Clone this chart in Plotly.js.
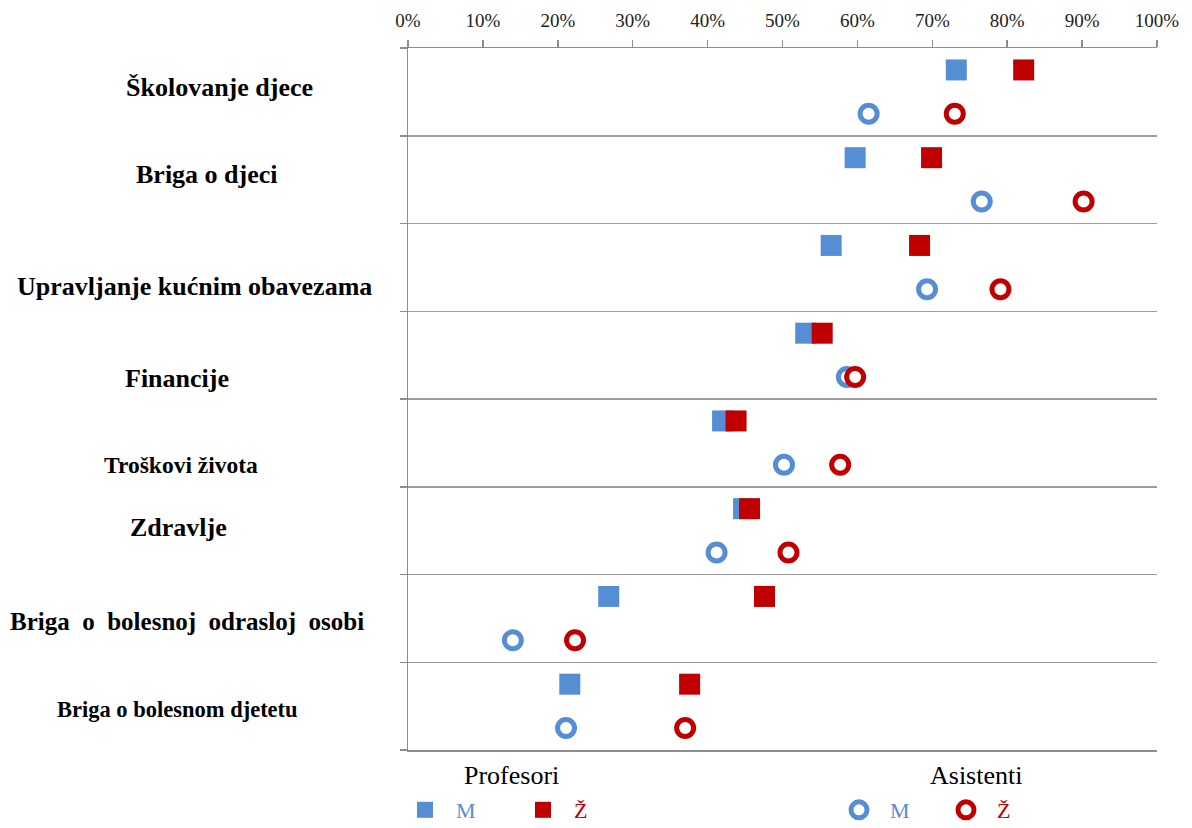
<!DOCTYPE html>
<html>
<head>
<meta charset="utf-8">
<script src="https://cdn.plot.ly/plotly-3.0.1.min.js"></script>
<style>html,body{margin:0;padding:0;background:#fff;}#chart{width:1192px;height:828px;}</style>
</head>
<body>
<div id="chart"></div>
<script>
// ---- data ----
const categories = ['Školovanje djece','Briga o djeci','Upravljanje kućnim obavezama','Financije','Troškovi života','Zdravlje','Briga o bolesnoj odrasloj osobi','Briga o bolesnom djetetu'];
const profesoriM = [73.2, 59.7, 56.5, 53.1, 42.0, 44.8, 26.8, 21.6];
const profesoriZ = [82.2, 69.9, 68.3, 55.3, 43.8, 45.6, 47.6, 37.6];
const asistentiM = [61.5, 76.6, 69.3, 58.6, 50.2, 41.2, 14.0, 21.1];
const asistentiZ = [73.0, 90.2, 79.1, 59.7, 57.7, 50.8, 22.3, 37.0];
const xTickVals = [0,10,20,30,40,50,60,70,80,90,100];
const xTickText = ['0%','10%','20%','30%','40%','50%','60%','70%','80%','90%','100%'];
const groupTitles = ['Profesori','Asistenti'];
const genderLabels = ['M','Ž'];

// ---- layout geometry ----
const W = 1192, H = 828;
const L = 408, R = 35, T = 48, B = 78;
const PW = W - L - R, PH = H - T - B;
const px = x => (x - L) / PW;
const py = y => 1 - (y - T) / PH;

const BLUE = '#558ED5', RED = '#C00000';
const idx = categories.map((c, i) => i);
const ySq = idx.map(i => i + 0.25);
const yCi = idx.map(i => i + 0.75);

function sqTrace(x, color, name, legend) {
  return {type:'scatter', mode:'markers', x:x, y:ySq, name:name, legend:legend,
    marker:{symbol:'square', size:21, color:color, line:{width:0}}, hoverinfo:'x'};
}
function ciTrace(x, color, name, legend) {
  return {type:'scatter', mode:'markers', x:x, y:yCi, name:name, legend:legend,
    marker:{symbol:'circle', size:17, color:'#ffffff', line:{width:5, color:color}}, hoverinfo:'x'};
}
const nb = '\u00A0\u00A0';
const traces = [
  sqTrace(profesoriM, BLUE, nb + '<span style="color:' + BLUE + '">' + genderLabels[0] + '</span>', 'legend'),
  sqTrace(profesoriZ, RED, nb + '<span style="color:' + RED + '">' + genderLabels[1] + '</span>', 'legend2'),
  ciTrace(asistentiM, BLUE, nb + '<span style="color:' + BLUE + '">' + genderLabels[0] + '</span>', 'legend3'),
  ciTrace(asistentiZ, RED, nb + '<span style="color:' + RED + '">' + genderLabels[1] + '</span>', 'legend4')
];

// category label placement (px centres) and sizes
const labelPos = [
  {cx:219, cy:88, size:26, gap:1},
  {cx:207, cy:175, size:26, gap:1},
  {cx:195, cy:286, size:26, gap:1},
  {cx:177, cy:378, size:26, gap:1},
  {cx:181, cy:465, size:23.5, gap:1},
  {cx:178, cy:527, size:26, gap:1},
  {cx:187, cy:621, size:25, gap:2},
  {cx:177, cy:709, size:22.5, gap:1}
];
const annotations = categories.map((c, i) => ({
  xref:'paper', yref:'paper', x:px(labelPos[i].cx), y:py(labelPos[i].cy),
  xanchor:'center', yanchor:'middle', showarrow:false,
  text:'<b>' + c.split(' ').join('\u00A0'.repeat(labelPos[i].gap)) + '</b>',
  font:{family:'Liberation Serif', size:labelPos[i].size, color:'#000'}
}));
annotations.push({xref:'paper', yref:'paper', x:px(511), y:py(775), xanchor:'center', yanchor:'middle', showarrow:false,
  text:groupTitles[0], font:{family:'Liberation Serif', size:26, color:'#000'}});
annotations.push({xref:'paper', yref:'paper', x:px(976), y:py(775), xanchor:'center', yanchor:'middle', showarrow:false,
  text:groupTitles[1], font:{family:'Liberation Serif', size:26, color:'#000'}});

function leg(symX) {
  return {orientation:'h', x:px(symX - 20), xanchor:'left', y:py(810), yanchor:'middle',
    font:{family:'Liberation Serif', size:22, color:'#000'}, bgcolor:'rgba(0,0,0,0)', borderwidth:0};
}

const layout = {
  width:W, height:H,
  margin:{l:L, r:R, t:T, b:B, pad:0, autoexpand:false},
  paper_bgcolor:'#fff', plot_bgcolor:'#fff',
  showlegend:true,
  xaxis:{side:'top', range:[0,100], tickvals:xTickVals, ticktext:xTickText,
    ticks:'outside', ticklen:7, tickwidth:1.5, tickcolor:'#8C8C8C',
    showline:true, mirror:true, linecolor:'#8C8C8C', linewidth:1.5, showgrid:false, zeroline:false,
    ticklabelstandoff:5,
    tickfont:{family:'Liberation Serif', size:19, color:'#222'}, fixedrange:true},
  yaxis:{range:[8,0], tickvals:[0,1,2,3,4,5,6,7,8], showticklabels:false,
    ticks:'outside', ticklen:7, tickwidth:1.5, tickcolor:'#8C8C8C',
    showgrid:true, gridcolor:'#9C9C9C', gridwidth:1.5,
    showline:true, linecolor:'#8C8C8C', linewidth:1.5, zeroline:false, fixedrange:true},
  legend:leg(425), legend2:leg(543), legend3:leg(859), legend4:leg(966),
  annotations:annotations
};

Plotly.newPlot('chart', traces, layout, {displayModeBar:false, staticPlot:true});
</script>
</body>
</html>
